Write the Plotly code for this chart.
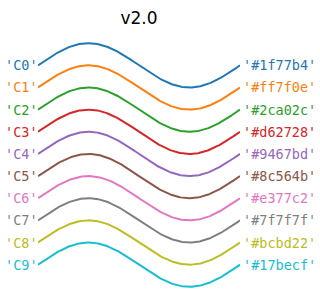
import numpy as np
import plotly.graph_objects as go

cycle_names = ['C0', 'C1', 'C2', 'C3', 'C4', 'C5', 'C6', 'C7', 'C8', 'C9']
hex_colors = ['#1f77b4', '#ff7f0e', '#2ca02c', '#d62728', '#9467bd',
              '#8c564b', '#e377c2', '#7f7f7f', '#bcbd22', '#17becf']
offsets = [0, -1, -2, -3, -4, -5, -6, -7, -8, -9]
title_text = 'v2.0'

th = np.linspace(0, 2 * np.pi, 256)

fig = go.Figure()
annotations = []
for name, col, off in zip(cycle_names, hex_colors, offsets):
    fig.add_trace(go.Scatter(x=th, y=np.sin(th) + off, mode='lines',
                             line=dict(color=col, width=2), showlegend=False,
                             hoverinfo='skip'))
    annotations.append(dict(x=0, y=off, xref='x', yref='y', text=repr(name),
                            showarrow=False, xanchor='right', yanchor='middle',
                            xshift=1.5, font=dict(family='DejaVu Sans Mono', size=13.5, color=col)))
    annotations.append(dict(x=2 * np.pi, y=off, xref='x', yref='y', text=repr(col),
                            showarrow=False, xanchor='left', yanchor='middle',
                            xshift=0.5, font=dict(family='DejaVu Sans Mono', size=13.5, color=col)))

fig.update_layout(
    width=320, height=307,
    margin=dict(l=38, r=80, t=31, b=8),
    plot_bgcolor='white', paper_bgcolor='white',
    xaxis=dict(range=[0, 2 * np.pi], visible=False),
    yaxis=dict(range=[-10.55, 1.55], visible=False),
    title=dict(text=title_text, x=(38 + 240) / 2 / 320, xanchor='center',
               y=1 - 18 / 307, yanchor='middle', yref='container',
               font=dict(family='DejaVu Sans', size=17, color='black')),
    annotations=annotations,
)
fig.write_html('out.html')
